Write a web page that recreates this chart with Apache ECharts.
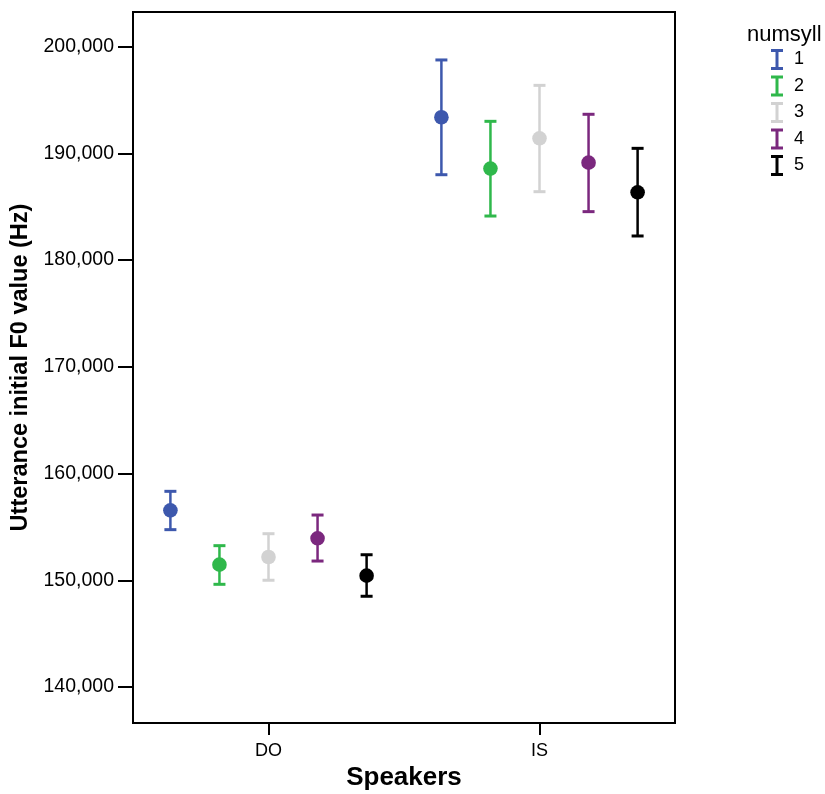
<!DOCTYPE html>
<html>
<head>
<meta charset="utf-8">
<script src="https://cdn.jsdelivr.net/npm/echarts@6/dist/echarts.min.js"></script>
<style>
html,body{margin:0;padding:0;background:#fff;}
#chart{width:825px;height:794px;}
</style>
</head>
<body>
<div id="chart"></div>
<script>
// ---- data ----
const speakers = ['DO', 'IS'];
const numsyll = ['1', '2', '3', '4', '5'];
// mean F0 per numsyll group, one value per speaker (DO, IS)
const meanValues = [
  [156550, 193370],
  [151460, 188560],
  [152180, 191400],
  [153930, 189120],
  [150430, 186340]
];
// lower ends of error bars
const lowerValues = [
  [154740, 187990],
  [149620, 184120],
  [150000, 186400],
  [151800, 184530],
  [148500, 182250]
];
// upper ends of error bars
const upperValues = [
  [158330, 198740],
  [153240, 192990],
  [154360, 196360],
  [156110, 193650],
  [152390, 190460]
];
const yTicks = [140000, 150000, 160000, 170000, 180000, 190000, 200000];

// ---- styles ----
const colors = ['#3d58ad', '#2fb84b', '#d2d2d2', '#7b287e', '#000000'];
const dodge = 0.181;
const font = 'Liberation Sans, Arial, sans-serif';

const chart = echarts.init(document.getElementById('chart'), null, {renderer: 'canvas'});

function renderItem(params, api) {
  const x = api.value(0), m = api.value(1), lo = api.value(2), hi = api.value(3);
  const pHi = api.coord([x, hi]);
  const pLo = api.coord([x, lo]);
  const pM = api.coord([x, m]);
  const color = api.visual('color');
  const capHalf = 6;
  return {
    type: 'group',
    children: [
      {type: 'line', shape: {x1: pHi[0], y1: pHi[1], x2: pLo[0], y2: pLo[1]},
       style: {stroke: color, lineWidth: 2.5}},
      {type: 'line', shape: {x1: pHi[0] - capHalf, y1: pHi[1], x2: pHi[0] + capHalf, y2: pHi[1]},
       style: {stroke: color, lineWidth: 3}},
      {type: 'line', shape: {x1: pLo[0] - capHalf, y1: pLo[1], x2: pLo[0] + capHalf, y2: pLo[1]},
       style: {stroke: color, lineWidth: 3}},
      {type: 'circle', shape: {cx: pM[0], cy: pM[1], r: 7.3}, style: {fill: color}}
    ]
  };
}

const series = numsyll.map((name, k) => ({
  name: name,
  type: 'custom',
  renderItem: renderItem,
  itemStyle: {color: colors[k]},
  encode: {x: 0, y: 1},
  data: speakers.map((s, i) => [i + 1 + (k - 2) * dodge, meanValues[k][i], lowerValues[k][i], upperValues[k][i]])
}));

const option = {
  backgroundColor: '#ffffff',
  animation: false,
  title: {
    text: 'numsyll',
    left: 742, top: 19,
    textStyle: {fontFamily: font, fontSize: 22, fontWeight: 'normal', color: '#000'}
  },
  legend: {
    orient: 'vertical',
    left: 766, top: 44,
    itemWidth: 12, itemHeight: 21, itemGap: 5.5,
    icon: 'path://M0,0H12V3H7.5V18H12V21H0V18H4.5V3H0Z',
    selectedMode: false,
    data: numsyll,
    textStyle: {fontFamily: font, fontSize: 18, color: '#000', padding: [0, 0, 0, 6]}
  },
  grid: {
    left: 133, right: 150, top: 12, bottom: 71,
    outerBoundsMode: 'none',
    containLabel: false,
    show: true, borderColor: '#000', borderWidth: 2
  },
  xAxis: {
    type: 'value',
    min: 0.5, max: 2.5,
    name: 'Speakers',
    nameLocation: 'middle',
    nameGap: 42,
    nameTextStyle: {fontFamily: font, fontSize: 26, fontWeight: 'bold', color: '#000'},
    splitLine: {show: false},
    axisLine: {show: true, lineStyle: {color: '#000', width: 2}},
    axisTick: {show: true, customValues: [1, 2], length: 12, lineStyle: {color: '#000', width: 2}},
    axisLabel: {
      customValues: [1, 2],
      margin: 19,
      fontFamily: font, fontSize: 18, color: '#000',
      formatter: v => speakers[Math.round(v) - 1]
    }
  },
  yAxis: {
    type: 'value',
    min: 136628, max: 203232,
    name: 'Utterance initial F0 value (Hz)',
    nameLocation: 'middle',
    nameGap: 99,
    nameTextStyle: {fontFamily: font, fontSize: 23.5, fontWeight: 'bold', color: '#000'},
    splitLine: {show: false},
    axisLine: {show: true, lineStyle: {color: '#000', width: 2}},
    axisTick: {show: true, customValues: yTicks, length: 15, lineStyle: {color: '#000', width: 2}},
    axisLabel: {
      customValues: yTicks,
      margin: 19,
      fontFamily: font, fontSize: 19.5, color: '#000',
      formatter: v => v.toLocaleString('en-US')
    }
  },
  series: series
};
chart.setOption(option);
</script>
</body>
</html>
